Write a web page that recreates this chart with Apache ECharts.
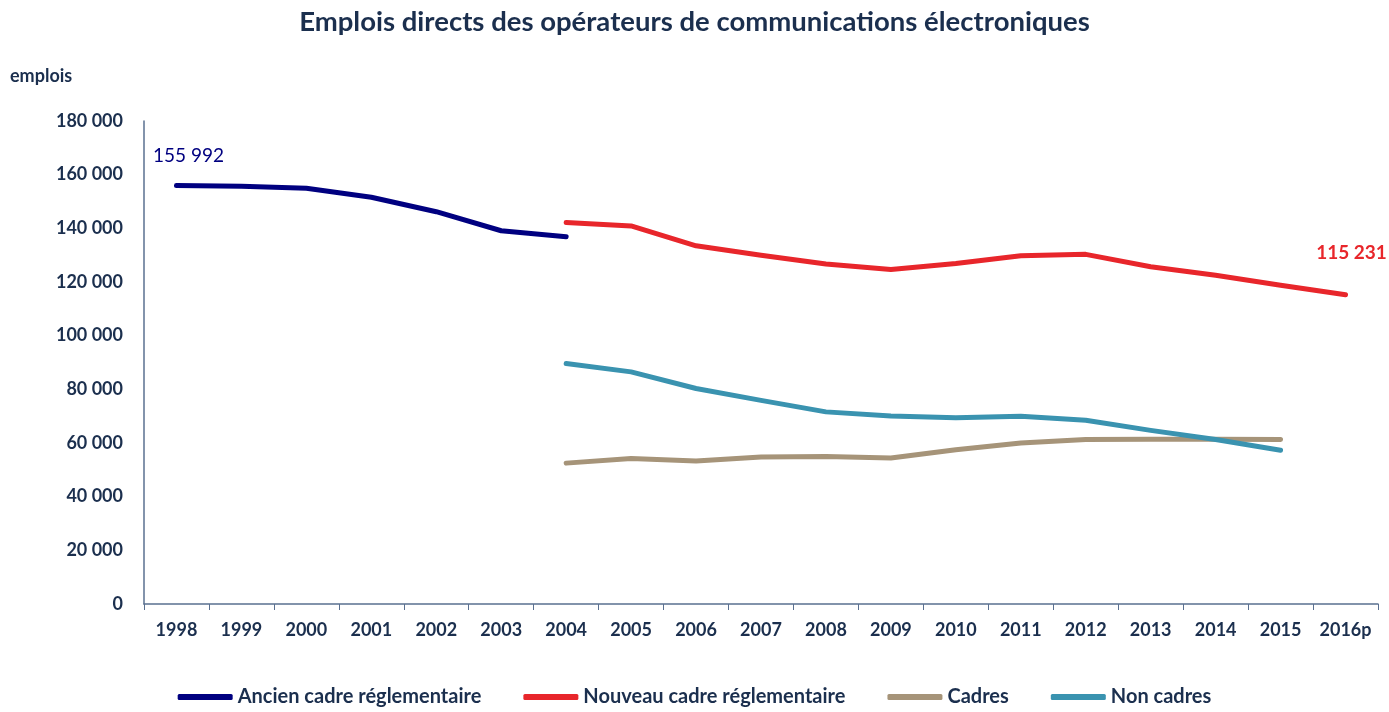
<!DOCTYPE html>
<html>
<head>
<meta charset="utf-8">
<script src="https://cdn.jsdelivr.net/npm/echarts@6/dist/echarts.min.js"></script>
<style>
html,body{margin:0;padding:0;background:#fff;}
#chart{width:1389px;height:712px;}
</style>
</head>
<body>
<div id="chart"></div>
<script>
var categories = ['1998','1999','2000','2001','2002','2003','2004','2005','2006','2007','2008','2009','2010','2011','2012','2013','2014','2015','2016p'];
var ancienCadre = [155992,155700,154900,151600,146200,139100,136900,null,null,null,null,null,null,null,null,null,null,null,null];
var nouveauCadre = [null,null,null,null,null,null,142200,140900,133500,130000,126700,124700,126900,129800,130300,125700,122500,118800,115231];
var cadres = [null,null,null,null,null,null,52500,54200,53300,54800,55000,54400,57500,60000,61300,61400,61400,61300,null];
var nonCadres = [null,null,null,null,null,null,89600,86500,80300,75900,71600,70100,69400,70000,68500,64700,61300,57300,null];
var seriesNames = ['Ancien cadre réglementaire','Nouveau cadre réglementaire','Cadres','Non cadres'];

function fmt(v){ return String(v).replace(/\B(?=(\d{3})+(?!\d))/g,' '); }

var FONT = 'Lato';
var dark = '#1B2F4E';
var chart = echarts.init(document.getElementById('chart'));

function withLabel(arr, idx, label){
  return arr.map(function(v,i){
    if(i===idx){ return {value:v, label:label}; }
    return v;
  });
}

function lineSeries(name, data, color){
  return {
    name:name, type:'line', data:data,
    symbol:'circle', symbolSize:0.01, showSymbol:true,
    itemStyle:{color:color},
    lineStyle:{color:color,width:5,cap:'round',join:'round'},
    emphasis:{disabled:true}
  };
}

chart.setOption({
  animation:false,
  textStyle:{fontFamily:FONT},
  title:{
    text:'Emplois directs des opérateurs de communications électroniques',
    left:'center', top:3,
    textStyle:{fontFamily:FONT,fontWeight:'bold',fontSize:27.5,color:dark}
  },
  graphic:[{type:'text',left:10,top:67,style:{text:'emplois',fontFamily:FONT,fontWeight:'bold',fontSize:18,fill:dark}}],
  legend:{
    bottom:0, left:'center',
    itemWidth:55, itemHeight:6, itemGap:42,
    icon:'roundRect',
    textStyle:{fontFamily:FONT,fontWeight:'bold',fontSize:20,color:dark},
    data:seriesNames
  },
  grid:{left:144,right:11,top:121,bottom:108},
  xAxis:{
    type:'category',
    data:categories,
    boundaryGap:true,
    axisLine:{lineStyle:{color:'#5A7090',width:1.5}},
    axisTick:{show:true,alignWithLabel:false,length:6,lineStyle:{color:'#5A7090'}},
    axisLabel:{fontFamily:FONT,fontWeight:'bold',fontSize:18,color:dark,margin:17,interval:0}
  },
  yAxis:{
    type:'value',min:0,max:180000,interval:20000,
    axisLine:{show:true,lineStyle:{color:'#5A7090',width:1.5}},
    axisTick:{show:false},
    splitLine:{show:false},
    axisLabel:{fontFamily:FONT,fontWeight:'bold',fontSize:18,color:dark,margin:21,formatter:function(v){return fmt(v);}}
  },
  series:[
    lineSeries(seriesNames[0], withLabel(ancienCadre,0,{show:true,position:'top',distance:20,offset:[12,0],formatter:function(p){return fmt(p.value);},fontFamily:FONT,fontSize:19,color:'#000080'}), '#000080'),
    lineSeries(seriesNames[1], withLabel(nouveauCadre,18,{show:true,position:'top',distance:32,offset:[6,0],formatter:function(p){return fmt(p.value);},fontFamily:FONT,fontWeight:'bold',fontSize:19,color:'#E8262B'}), '#E8262B'),
    lineSeries(seriesNames[2], cadres, '#A69479'),
    lineSeries(seriesNames[3], nonCadres, '#3A93B0')
  ]
});
</script>
</body>
</html>
